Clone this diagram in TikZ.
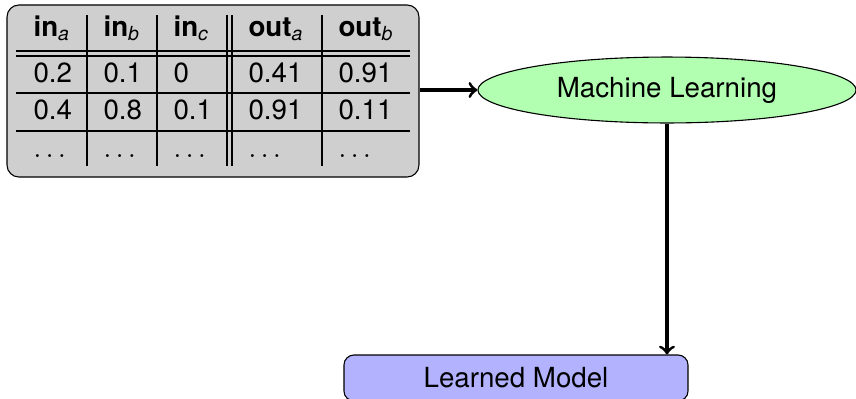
\documentclass[tikz,border=0pt]{standalone}
\usepackage{fontspec}
\setmainfont{TeX Gyre Heros}
\usetikzlibrary{shapes.geometric,calc}
\begin{document}
\begin{tikzpicture}[x=0.361pt,y=-0.361pt,
  cell/.style={anchor=base west,inner sep=0pt,font=\fontsize{10}{12}\selectfont},
  tline/.style={line width=0.45pt},
  conn/.style={line width=1.1pt,->},
  tablebox/.style={draw,fill=black!19,rounded corners=4.3pt,minimum width=148.7pt,minimum height=62.1pt,inner sep=0pt},
  mlshape/.style={draw,ellipse,fill=green!30,minimum width=136.5pt,minimum height=23.8pt,inner sep=0pt,font=\fontsize{10}{12}\selectfont},
  modelbox/.style={draw,fill=blue!30,rounded corners=3.6pt,minimum width=124.2pt,minimum height=16.6pt,inner sep=0pt,font=\fontsize{10}{12}\selectfont}]
\useasboundingbox (0,0) rectangle (856,399);
% table background
\node[tablebox] (tbl) at (213,91) {};
% horizontal rules
\draw[tline] (16,51) -- (410,51);
\draw[tline] (16,56) -- (410,56);
\draw[tline] (16,93) -- (410,93);
\draw[tline] (16,131) -- (410,131);
% vertical rules
\draw[tline] (87,15) -- (87,166);
\draw[tline] (157,15) -- (157,166);
\draw[tline] (227,15) -- (227,166);
\draw[tline] (232,15) -- (232,166);
\draw[tline] (322,15) -- (322,166);
% header
\node[cell] (h1) at (33,36) {\textbf{in}\textsubscript{\textit{a}}};
\node[cell] (h2) at (103,36) {\textbf{in}\textsubscript{\textit{b}}};
\node[cell] (h3) at (173,36) {\textbf{in}\textsubscript{\textit{c}}};
\node[cell] (h4) at (248,36) {\textbf{out}\textsubscript{\textit{a}}};
\node[cell] (h5) at (338,36) {\textbf{out}\textsubscript{\textit{b}}};
% row 1
\node[cell] (a1) at (33,82) {0.2};
\node[cell] (a2) at (103,82) {0.1};
\node[cell] (a3) at (173,82) {0};
\node[cell] (a4) at (248,82) {0.41};
\node[cell] (a5) at (338,82) {0.91};
% row 2
\node[cell] (b1) at (33,119) {0.4};
\node[cell] (b2) at (103,119) {0.8};
\node[cell] (b3) at (173,119) {0.1};
\node[cell] (b4) at (248,119) {0.91};
\node[cell] (b5) at (338,119) {0.11};
% row 3
\node[cell] (c1) at (33,157) {$\ldots$};
\node[cell] (c2) at (103,157) {$\ldots$};
\node[cell] (c3) at (173,157) {$\ldots$};
\node[cell] (c4) at (248,157) {$\ldots$};
\node[cell] (c5) at (338,157) {$\ldots$};
% machine learning
\node[mlshape] (ml) at (667,90) {Machine Learning};
% learned model
\node[modelbox] (lm) at (516,378) {Learned Model};
% connectors
\draw[conn] (ml.west -| tbl.east) -- (ml.west);
\draw[conn] (ml.south) -- (ml.south |- lm.north);
\end{tikzpicture}
\end{document}
